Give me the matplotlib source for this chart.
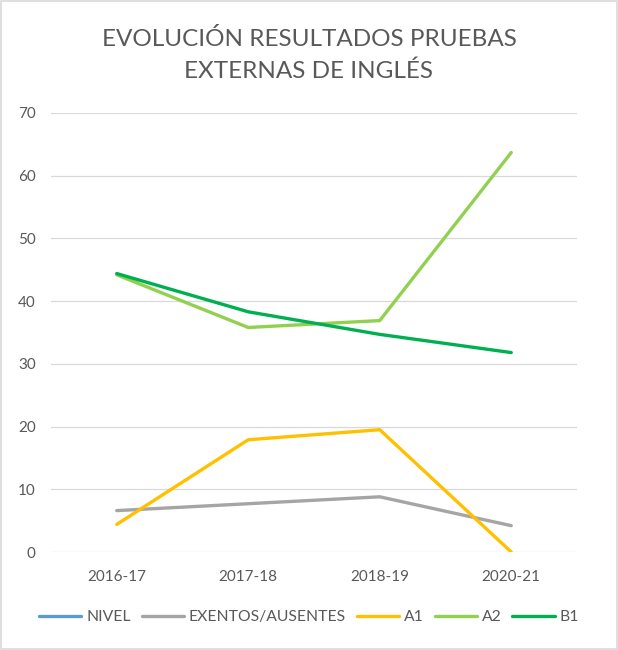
import numpy as np
import matplotlib.pyplot as plt
from matplotlib.patches import Rectangle

# Data
years = ["2016-17", "2017-18", "2018-19", "2020-21"]
nivel = [np.nan, np.nan, np.nan, np.nan]
exentos = [6.6, 7.7, 8.8, 4.2]
a1 = [4.4, 17.9, 19.5, 0.0]
a2 = [44.2, 35.8, 36.9, 63.7]
b1 = [44.4, 38.3, 34.7, 31.8]

TEXT = "#595959"
GRID = "#D9D9D9"

plt.rcParams["font.family"] = ["Lato", "DejaVu Sans"]

fig = plt.figure(figsize=(6.18, 6.5), dpi=100)
ax = fig.add_axes([51 / 618, 1 - 552 / 650, 526 / 618, 439 / 650])

x = np.arange(len(years))
lw = 2.4
ax.plot(x, nivel, color="#5B9BD5", lw=lw, label="NIVEL", solid_capstyle="round")
ax.plot(x, exentos, color="#A5A5A5", lw=lw, label="EXENTOS/AUSENTES", solid_capstyle="round")
ax.plot(x, a1, color="#FFC000", lw=lw, label="A1", solid_capstyle="round")
ax.plot(x, a2, color="#92D050", lw=lw, label="A2", solid_capstyle="round")
ax.plot(x, b1, color="#00B050", lw=lw, label="B1", solid_capstyle="round")

ax.set_xlim(-0.5, len(years) - 0.5)
ax.set_ylim(0, 70)
ax.set_yticks(range(0, 71, 10))
ax.set_xticks(x)
ax.set_xticklabels(years)
ax.grid(axis="y", color=GRID, lw=0.9)
ax.set_axisbelow(True)
for s in ax.spines.values():
    s.set_visible(False)
ax.tick_params(length=0, colors=TEXT, labelsize=11)
ax.tick_params(axis="y", pad=11)
ax.tick_params(axis="x", pad=13)

fig.text(0.5, 1 - 55 / 650, "EVOLUCIÓN RESULTADOS PRUEBAS\nEXTERNAS DE INGLÉS",
         ha="center", va="center", fontsize=17.5, color=TEXT,
         linespacing=1.65)

fig.legend(loc="center", bbox_to_anchor=(0.5, 1 - 617 / 650), ncol=5,
           frameon=False, fontsize=11.3, labelcolor=TEXT, handlelength=2.7,
           handletextpad=0.3, columnspacing=0.7)

fig.patches.append(Rectangle((0.002, 0.002), 0.996, 0.996, transform=fig.transFigure,
                             fill=False, edgecolor=GRID, lw=1.2))

fig.savefig("out.png", dpi=100)
